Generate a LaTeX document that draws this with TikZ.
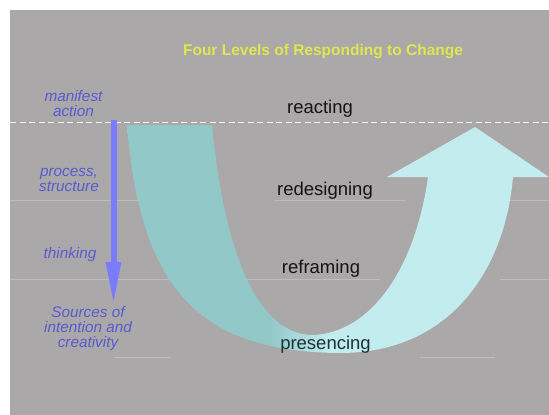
\documentclass[tikz,border=0pt]{standalone}
\usepackage{fontspec}
\setmainfont{Liberation Sans}
\usetikzlibrary{arrows.meta}
\definecolor{bg}{HTML}{AAA8A8}
\definecolor{faint}{HTML}{BEBCBC}
\definecolor{armdark}{HTML}{93C8C9}
\definecolor{armlight}{HTML}{C3ECEE}
\definecolor{titleyellow}{HTML}{E2E650}
\definecolor{labelblue}{HTML}{5A5AD0}
\definecolor{arrowblue}{HTML}{7B7BFF}
\definecolor{darkteal}{HTML}{1C3234}
\pgfdeclarehorizontalshading{ushade}{100bp}{color(0bp)=(armdark); color(42bp)=(armdark); color(49bp)=(armlight); color(100bp)=(armlight)}
\tikzset{
  lvl/.style={anchor=base, inner sep=0pt, text=black!92, font=\fontsize{18.5}{20}\selectfont},
  side/.style={anchor=base, inner sep=0pt, align=center, text=labelblue, font=\fontsize{15.3}{15}\selectfont\itshape},
  ttl/.style={anchor=base, inner sep=0pt, text=titleyellow, font=\fontsize{15.5}{17}\selectfont\bfseries},
  faintline/.style={draw=faint, line width=0.8pt},
  bluearrow/.style={draw=arrowblue, line width=6pt, -{Triangle[length=43pt,width=14pt]}}
}
\begin{document}
\begin{tikzpicture}[x=1pt,y=-1pt]
\useasboundingbox (0,0) rectangle (549,415);
\fill[white] (0,0) rectangle (549,415);
\fill[bg] (10,10) rectangle (549,415);
% faint level lines
\draw[faintline] (10,200) -- (175,200);
\draw[faintline] (275,200) -- (405,200);
\draw[faintline] (505,200) -- (549,200);
\draw[faintline] (10,279) -- (380,279);
\draw[faintline] (500,279) -- (549,279);
\draw[faintline] (115,357) -- (171,357);
\draw[faintline] (420,357) -- (495,357);
% U arrow
\shade[shading=ushade] (127,125) .. controls (140,290) and (200,352) .. (340,353)
  .. controls (450,353) and (505,270) .. (513,177) -- (549,177) -- (475,127) -- (387,177) -- (428,177)
  .. controls (415,270) and (370,333) .. (313,335)
  .. controls (260,335) and (225,260) .. (212,125) -- cycle;
% dashed line
\draw[white, opacity=0.9, line width=1.2pt, dash pattern=on 6pt off 3.5pt] (10,122.5) -- (549,122.5);
% blue arrow
\coordinate (btop) at (113.5,120);
\coordinate (bbot) at (113.5,305);
\draw[bluearrow] (btop) -- (bbot);
% texts
\node[ttl] (title) at (323,55) {Four Levels of Responding to Change};
\node[lvl] (reacting) at (320,113) {reacting};
\node[lvl] (redesigning) at (325,195) {redesigning};
\node[lvl] (reframing) at (321,273) {reframing};
\node[lvl, text=darkteal] (presencing) at (325.5,349.5) {presencing};
\node[side] (manifest) at (73.5,116) {manifest\\action};
\node[side] (process) at (69,191) {process,\\structure};
\node[side] (thinking) at (70,258) {thinking};
\node[side] (sources) at (88,347) {Sources of\\intention and\\creativity};
\end{tikzpicture}
\end{document}
